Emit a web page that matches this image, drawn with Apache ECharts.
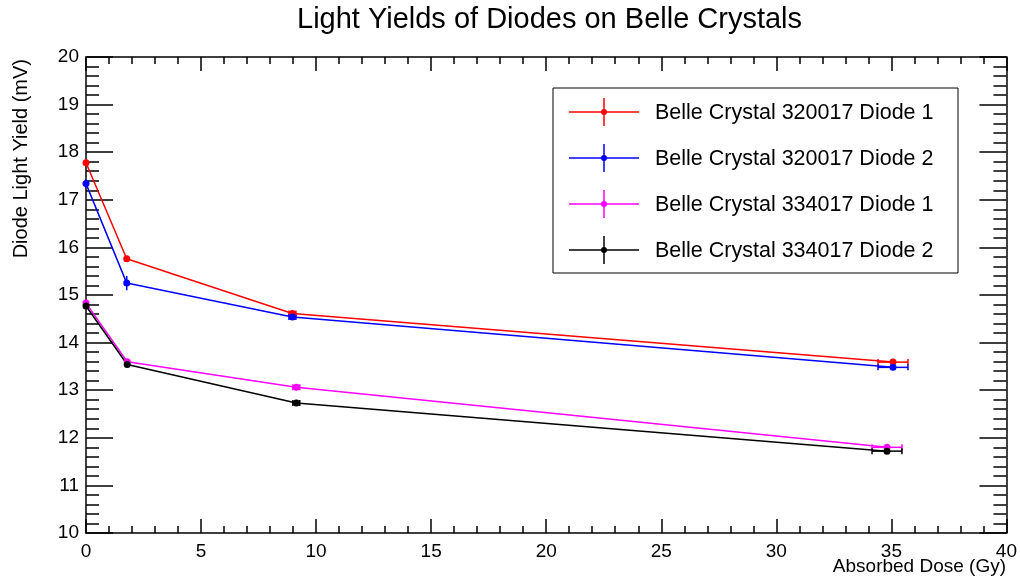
<!DOCTYPE html>
<html>
<head>
<meta charset="utf-8">
<script src="https://cdn.jsdelivr.net/npm/echarts@6/dist/echarts.min.js"></script>
<style>
  html, body { margin: 0; padding: 0; background: #fff; }
  #chart { width: 1020px; height: 579px; }
</style>
</head>
<body>
<div id="chart"></div>
<script>
// Light yield of each diode versus absorbed dose
const seriesNames = [
  'Belle Crystal 320017 Diode 1',
  'Belle Crystal 320017 Diode 2',
  'Belle Crystal 334017 Diode 1',
  'Belle Crystal 334017 Diode 2'
];
const seriesColors = ['#ff0000', '#0000ff', '#ff00ff', '#000000'];

// dose (Gy)
const doseA = [0, 1.77, 8.97, 35.07];
const doseB = [0, 1.79, 9.14, 34.81];
// dose uncertainty (Gy)
const doseErr = [0, 0, 0.15, 0.65];

// light yield (mV)
const yield320017D1 = [17.78, 15.76, 14.61, 13.59];
const yield320017D2 = [17.34, 15.25, 14.54, 13.48];
const yield334017D1 = [14.83, 13.60, 13.06, 11.80];
const yield334017D2 = [14.77, 13.54, 12.73, 11.72];

// light yield uncertainty (mV)
const err320017D1 = [0.06, 0.05, 0.04, 0.03];
const err320017D2 = [0.09, 0.15, 0.05, 0.03];
const err334017D1 = [0.05, 0.04, 0.04, 0.03];
const err334017D2 = [0.05, 0.04, 0.04, 0.03];

const xTicks = [0, 5, 10, 15, 20, 25, 30, 35, 40];
const yTicks = [10, 11, 12, 13, 14, 15, 16, 17, 18, 19, 20];

const sets = [
  { x: doseA, y: yield320017D1, ye: err320017D1 },
  { x: doseA, y: yield320017D2, ye: err320017D2 },
  { x: doseB, y: yield334017D1, ye: err334017D1 },
  { x: doseB, y: yield334017D2, ye: err334017D2 }
];

const FONT = '"Liberation Sans", Arial, Helvetica, sans-serif';

const chart = echarts.init(document.getElementById('chart'), null, { renderer: 'canvas' });

const series = [];
sets.forEach((s, k) => {
  const color = seriesColors[k];
  series.push({
    name: seriesNames[k],
    type: 'line',
    xAxisIndex: 0,
    yAxisIndex: 0,
    data: s.x.map((x, i) => [x, s.y[i]]),
    symbol: 'circle',
    symbolSize: 7,
    showSymbol: true,
    lineStyle: { color: color, width: 1.5 },
    itemStyle: { color: color },
    z: 3,
    animation: false
  });
  series.push({
    name: seriesNames[k] + ' err',
    type: 'custom',
    xAxisIndex: 0,
    yAxisIndex: 0,
    data: s.x.map((x, i) => [x, s.y[i], doseErr[i], s.ye[i]]),
    renderItem: function (params, api) {
      const x = api.value(0), y = api.value(1), dx = api.value(2), dy = api.value(3);
      const kids = [];
      const st = { stroke: color, lineWidth: 1.5 };
      if (dx > 0) {
        const l = api.coord([x - dx, y]);
        const r = api.coord([x + dx, y]);
        kids.push({ type: 'line', shape: { x1: l[0], y1: l[1], x2: r[0], y2: r[1] }, style: st });
        kids.push({ type: 'line', shape: { x1: l[0], y1: l[1] - 3, x2: l[0], y2: l[1] + 3 }, style: st });
        kids.push({ type: 'line', shape: { x1: r[0], y1: r[1] - 3, x2: r[0], y2: r[1] + 3 }, style: st });
      }
      if (dy > 0) {
        const t = api.coord([x, y + dy]);
        const b = api.coord([x, y - dy]);
        kids.push({ type: 'line', shape: { x1: t[0], y1: t[1], x2: b[0], y2: b[1] }, style: st });
      }
      return { type: 'group', children: kids };
    },
    z: 2,
    silent: true,
    animation: false
  });
});

// Legend box drawn with graphic elements (line + error cross + marker)
const legendLeft = 553, legendTop = 88, legendW = 405, legendH = 185;
const rowY = [112, 158, 204, 250];
const legendChildren = [
  { type: 'rect', shape: { x: legendLeft, y: legendTop, width: legendW, height: legendH },
    style: { fill: '#fff', stroke: '#000', lineWidth: 1 } }
];
seriesNames.forEach((name, k) => {
  const y = rowY[k];
  const c = seriesColors[k];
  legendChildren.push({ type: 'line', shape: { x1: 569, y1: y, x2: 639, y2: y }, style: { stroke: c, lineWidth: 1.5 } });
  legendChildren.push({ type: 'line', shape: { x1: 604, y1: y - 14, x2: 604, y2: y + 14 }, style: { stroke: c, lineWidth: 1.5 } });
  legendChildren.push({ type: 'circle', shape: { cx: 604, cy: y, r: 3 }, style: { fill: c } });
  legendChildren.push({ type: 'text', x: 655, y: y + 1,
    style: { text: name, fill: '#000', font: '21.5px ' + FONT, textVerticalAlign: 'middle', textAlign: 'left' } });
});

const tickLabelStyle = { color: '#000', fontSize: 19, fontFamily: FONT };

const option = {
  backgroundColor: '#fff',
  animation: false,
  title: {
    text: 'Light Yields of Diodes on Belle Crystals',
    left: 297,
    top: 5,
    padding: 0,
    textStyle: { color: '#000', fontSize: 29, fontWeight: 'normal', fontFamily: FONT }
  },
  grid: { left: 86, right: 13, top: 57, bottom: 46, containLabel: false },
  xAxis: [
    {
      type: 'value', position: 'bottom', min: 0, max: 40, interval: 5,
      axisLine: { show: true, onZero: false, lineStyle: { color: '#000', width: 1.5 } },
      axisTick: { show: true, inside: true, length: 14, lineStyle: { color: '#000', width: 1.5 } },
      minorTick: { show: true, splitNumber: 5, length: 7, lineStyle: { color: '#000', width: 1.5 } },
      axisLabel: { ...tickLabelStyle, margin: 9, formatter: v => (xTicks.includes(v) ? String(v) : '') },
      splitLine: { show: false }
    },
    {
      type: 'value', position: 'top', min: 0, max: 40, interval: 5,
      axisLine: { show: true, onZero: false, lineStyle: { color: '#000', width: 1.5 } },
      axisTick: { show: true, inside: true, length: 14, lineStyle: { color: '#000', width: 1.5 } },
      minorTick: { show: true, splitNumber: 5, length: 7, lineStyle: { color: '#000', width: 1.5 } },
      axisLabel: { show: false },
      splitLine: { show: false }
    }
  ],
  yAxis: [
    {
      type: 'value', position: 'left', min: 10, max: 20, interval: 1,
      axisLine: { show: true, onZero: false, lineStyle: { color: '#000', width: 1.5 } },
      axisTick: { show: true, inside: true, length: 27, lineStyle: { color: '#000', width: 1.5 } },
      minorTick: { show: true, splitNumber: 5, length: 13, lineStyle: { color: '#000', width: 1.5 } },
      axisLabel: { ...tickLabelStyle, margin: 7, formatter: v => (yTicks.includes(v) ? String(v) : '') },
      splitLine: { show: false }
    },
    {
      type: 'value', position: 'right', min: 10, max: 20, interval: 1,
      axisLine: { show: true, onZero: false, lineStyle: { color: '#000', width: 1.5 } },
      axisTick: { show: true, inside: true, length: 27, lineStyle: { color: '#000', width: 1.5 } },
      minorTick: { show: true, splitNumber: 5, length: 13, lineStyle: { color: '#000', width: 1.5 } },
      axisLabel: { show: false },
      splitLine: { show: false }
    }
  ],
  series: series,
  graphic: [
    { type: 'group', children: legendChildren, z: 10 },
    { type: 'text', x: 1006, y: 567,
      style: { text: 'Absorbed Dose (Gy)', fill: '#000', font: '19px ' + FONT, textAlign: 'right', textVerticalAlign: 'middle' } },
    { type: 'text', x: 21, y: 59, rotation: Math.PI / 2,
      style: { text: 'Diode Light Yield (mV)', fill: '#000', font: '20px ' + FONT, textAlign: 'right', textVerticalAlign: 'middle' } }
  ]
};

chart.setOption(option);
</script>
</body>
</html>
